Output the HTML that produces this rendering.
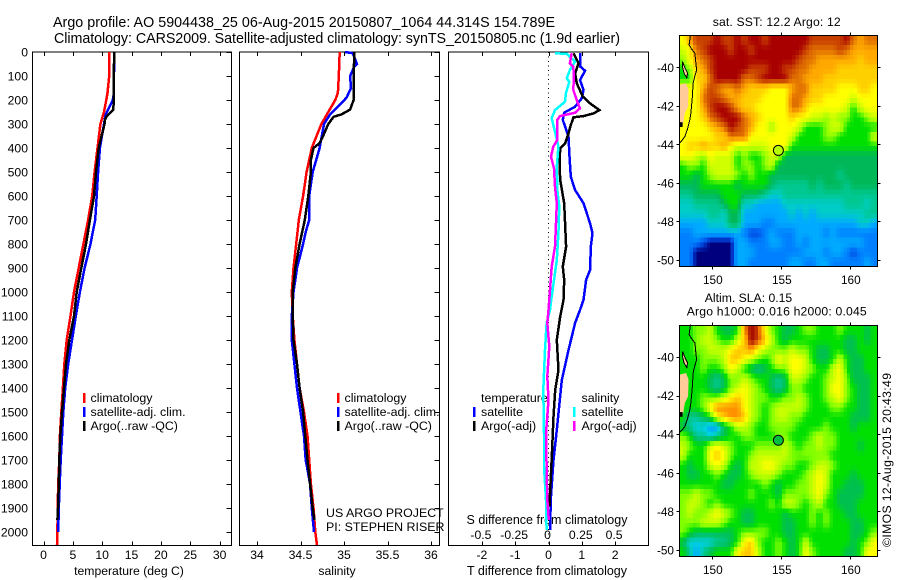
<!DOCTYPE html>
<html>
<head>
<meta charset="utf-8">
<title>Argo profile</title>
<style>
html,body{margin:0;padding:0;background:#fff;}
svg{display:block;}
text{font-family:"Liberation Sans",sans-serif;font-size:12.2px;fill:#000;}
.title{font-size:14.3px;}
.map-tick{font-size:11.8px;}
.legend-text{font-size:12.4px;}
.wide-label{font-size:12.5px;}
</style>
</head>
<body>
<svg id="chart" xmlns="http://www.w3.org/2000/svg" width="900" height="580" viewBox="0 0 900 580">
  <text class="title" x="53" y="27" textLength="502">Argo profile: AO 5904438_25 06-Aug-2015 20150807_1064 44.314S 154.789E</text>
  <text class="title" x="54" y="43" textLength="566">Climatology: CARS2009. Satellite-adjusted climatology: synTS_20150805.nc (1.9d earlier)</text>

  <text x="129" y="575" text-anchor="middle">temperature (deg C)</text>
  <text x="337" y="575" text-anchor="middle">salinity</text>
  <text class="wide-label" x="547" y="575" text-anchor="middle">T difference from climatology</text>
  <text class="wide-label" x="547" y="524" text-anchor="middle">S difference from climatology</text>

  <text class="legend-text" x="326" y="517">US ARGO PROJECT</text>
  <text class="legend-text" x="326" y="531">PI: STEPHEN RISER</text>

  <g id="legends">
    <rect x="83" y="393" width="2.5" height="10" fill="#ff0000"/>
    <text class="legend-text" x="90.5" y="402">climatology</text>
    <rect x="83" y="407" width="2.5" height="10" fill="#0000ff"/>
    <text class="legend-text" x="90.5" y="416">satellite-adj. clim.</text>
    <rect x="83" y="421" width="2.5" height="10" fill="#000000"/>
    <text class="legend-text" x="90.5" y="430">Argo(..raw -QC)</text>

    <rect x="337" y="393" width="2.5" height="10" fill="#ff0000"/>
    <text class="legend-text" x="344.5" y="402">climatology</text>
    <rect x="337" y="407" width="2.5" height="10" fill="#0000ff"/>
    <text class="legend-text" x="344.5" y="416">satellite-adj. clim.</text>
    <rect x="337" y="421" width="2.5" height="10" fill="#000000"/>
    <text class="legend-text" x="344.5" y="430">Argo(..raw -QC)</text>

    <text class="legend-text" x="481" y="402">temperature</text>
    <rect x="473" y="407" width="2.5" height="10" fill="#0000ff"/>
    <text class="legend-text" x="481" y="416">satellite</text>
    <rect x="473" y="421" width="2.5" height="10" fill="#000000"/>
    <text class="legend-text" x="481" y="430">Argo(-adj)</text>

    <text class="legend-text" x="581.5" y="402">salinity</text>
    <rect x="573" y="407" width="2.5" height="10" fill="#00ffff"/>
    <text class="legend-text" x="581.5" y="416">satellite</text>
    <rect x="573" y="421" width="2.5" height="10" fill="#ff00ff"/>
    <text class="legend-text" x="581.5" y="430">Argo(-adj)</text>
  </g>

  <text x="712.7" y="26" textLength="128">sat. SST: 12.2 Argo: 12</text>
  <text x="748.5" y="302" text-anchor="middle">Altim. SLA: 0.15</text>
  <text x="686.7" y="315.5" textLength="180">Argo h1000: 0.016 h2000: 0.045</text>
  <text transform="translate(891,547) rotate(-90)" textLength="174">©IMOS 12-Aug-2015 20:43:49</text>
</svg>
<script>
// ---------- profile data (depth in m, temperature in deg C, salinity) ----------
var depthTicks = [0,100,200,300,400,500,600,700,800,900,1000,1100,1200,1300,1400,1500,1600,1700,1800,1900,2000];
var tempTicks = [0,5,10,15,20,25,30];
var salTicks = [34,34.5,35,35.5,36];
var salTickLabels = ['34','34.5','35','35.5','36'];
var tdiffTicks = [-2,-1,0,1,2];
var sdiffTicks = [-0.5,-0.25,0,0.25,0.5];
var sdiffTickLabels = ['-0.5','-0.25','0','0.25','0.5'];

var climDepth = [0,100,170,200,250,300,400,500,600,700,800,900,1000,1100,1200,1300,1400,1500,1600,1700,1800,1900,2000,2054];
var climTemp = [11.2,11.2,10.9,10.7,10.3,9.7,9.2,8.7,8.3,7.6,6.8,6.0,5.2,4.6,3.95,3.55,3.3,3.03,2.8,2.7,2.5,2.42,2.36,2.3];
var climSal = [34.95,34.94,34.93,34.9,34.82,34.74,34.63,34.57,34.53,34.48,34.45,34.42,34.40,34.41,34.43,34.46,34.49,34.54,34.58,34.6,34.62,34.65,34.67,34.69];

var satTempDepth = [0,100,180,200,230,260,300,400,500,600,700,750,800,900,1000,1100,1200,1300,1400,1500,1600,1700,1800,1900,2000];
var satTemp = [12.1,12.0,11.95,11.8,11.2,10.6,10.3,9.6,9.3,9.06,8.8,8.4,8.0,7.0,6.2,5.5,4.85,4.2,3.7,3.37,3.15,2.93,2.76,2.6,2.5];
var argoTempDepth = [0,100,180,240,250,265,280,300,350,400,500,600,700,800,900,1000,1100,1200,1300,1400,1500,1600,1700,1800,1900,1950];
var argoTemp = [12.05,11.98,11.98,11.9,11.5,10.87,10.5,10.4,9.9,9.4,8.95,8.6,7.9,7.24,6.44,5.66,5.2,4.4,3.83,3.5,3.15,2.87,2.7,2.6,2.47,2.36];

var satSalDepth = [0,5,50,60,100,150,190,220,260,300,400,450,500,600,700,750,800,900,1000,1100,1200,1300,1400,1500,1600,1700,1800,1900,2000];
var satSal = [35.01,35.1,35.15,35.12,35.07,35.08,35.03,34.95,34.84,34.77,34.72,34.68,34.64,34.6,34.6,34.56,34.53,34.46,34.42,34.4,34.4,34.43,34.46,34.5,34.54,34.56,34.61,34.63,34.655];
var argoSalDepth = [0,100,200,240,260,270,300,350,380,400,450,500,600,700,800,900,1000,1100,1200,1300,1400,1500,1600,1700,1800,1900,1950];
var argoSal = [35.12,35.11,35.11,35.07,34.97,34.88,34.82,34.76,34.72,34.65,34.62,34.62,34.59,34.55,34.49,34.44,34.41,34.41,34.42,34.46,34.49,34.53,34.555,34.58,34.61,34.64,34.66];

var tDiffSatDepth = [5,61,78,117,158,193,228,253,283,353,436,520,575,630,714,755,811,908,950,1033,1075,1129,1242,1367,1575,1700,1867,1992];
var tDiffSat = [0.955,0.955,1.10,0.945,1.05,1.0,0.80,0.47,0.43,0.60,0.63,0.67,0.80,1.05,1.25,1.32,1.27,1.25,1.13,1.05,0.945,0.80,0.60,0.40,0.25,0.15,0.066,0.05];
var tDiffArgoDepth = [5,47,89,131,186,214,242,256,267,272,304,339,381,401,464,533,631,714,811,894,950,1033,1102,1200,1325,1408,1519,1686,1825,1894];
var tDiffArgo = [0.75,0.90,0.80,0.85,1.03,1.25,1.53,1.35,1.05,0.75,0.67,0.60,0.50,0.35,0.33,0.35,0.47,0.50,0.53,0.43,0.47,0.45,0.35,0.25,0.30,0.20,0.15,0.10,0.05,0.03];
var sDiffSatDepth = [5,8,40,75,110,124,172,207,242,276,332,394,478,575,644,756,867,950,1019,1075,1130,1241,1408,1589,1727,1866,1991];
var sDiffSat = [0.049,0.137,0.2,0.161,0.137,0.156,0.131,0.124,0.049,0.024,0.049,0.074,0.062,0.066,0.081,0.074,0.062,0.041,0.024,0.011,-0.014,-0.026,-0.039,-0.034,-0.034,-0.019,-0.014];
var sDiffArgoDepth = [5,47,61,103,158,200,235,253,267,283,367,394,436,485,561,631,714,811,894,992,1075,1130,1227,1352,1450,1589,1727,1866,1950];
var sDiffArgo = [0.174,0.161,0.186,0.191,0.186,0.212,0.236,0.2,0.086,0.066,0.066,0.036,0.019,0.041,0.049,0.062,0.056,0.049,0.024,0.011,0,-0.009,0.006,-0.009,0,-0.019,-0.014,-0.009,0.002];

// ---------- map data (colour-scale level per half-degree cell, north to south) ----------
var sstLevels = [
[10,12,14,14,14,15,14,14,15,14,15,15,14,15,15,15,15,15,15,14,14,14,14,14,15,13,12,13,13],
[9,10,13,14,15,15,15,14,15,15,14,15,15,15,15,15,15,15,14,13,13,13,13,14,13,12,12,12,12],
[8,10,12,13,14,15,15,15,15,15,15,15,15,15,15,15,15,14,13,13,12,12,12,12,12,12,11,12,12],
[7,8,11,12,14,15,15,15,15,15,14,14,14,15,15,14,14,13,13,12,12,12,12,11,11,11,11,11,11],
[7,7,11,11,13,15,15,15,15,13,13,14,15,15,15,15,13,13,12,12,12,11,11,11,11,11,11,11,11],
[10,10,10,12,14,13,12,12,13,12,11,11,11,10,10,10,12,13,13,11,11,11,11,10,10,10,11,11,10],
[10,10,10,13,14,14,13,12,12,11,11,11,10,10,10,10,13,13,12,11,11,10,10,10,10,9,10,10,10],
[10,10,10,12,14,15,15,14,12,11,11,10,10,10,10,10,13,13,11,10,10,10,10,10,9,7,9,10,10],
[10,10,10,11,13,14,15,15,15,13,12,11,10,10,10,10,11,10,10,9,9,8,9,8,8,7,7,8,9],
[10,10,10,10,11,12,13,15,14,13,12,10,10,8,10,10,10,9,7,7,7,8,9,9,7,7,7,7,7],
[10,10,10,10,10,11,11,13,13,13,10,10,10,10,10,10,9,7,7,7,7,8,8,7,7,7,7,7,9],
[10,11,11,12,11,11,12,10,9,9,9,9,9,10,10,10,7,7,7,7,7,7,7,7,7,7,7,7,7],
[10,10,9,8,10,9,9,9,7,8,7,7,8,9,9,6,6,6,6,6,6,6,6,6,6,6,6,6,6],
[7,8,8,7,9,9,9,9,7,8,8,7,8,9,6,6,6,6,6,6,6,6,6,6,6,6,6,6,6],
[7,7,6,7,8,9,9,9,8,7,8,7,7,6,6,6,6,6,6,6,6,6,6,5,6,6,6,6,6],
[6,6,6,7,7,7,7,7,6,7,7,7,7,6,5,5,5,5,5,6,5,6,6,6,5,6,6,6,6],
[5,5,6,6,6,6,7,7,7,6,6,6,5,4,4,5,5,5,5,5,5,5,5,5,5,5,5,5,5],
[4,4,5,5,5,5,6,7,7,4,4,3,3,3,3,4,4,4,4,4,4,4,4,4,5,5,5,4,5],
[4,4,4,4,5,5,4,6,6,3,3,3,3,3,3,3,4,3,4,3,4,4,4,4,4,4,4,5,5],
[3,3,3,3,4,4,4,6,6,3,3,3,2,2,3,3,3,3,3,3,3,3,3,3,3,3,4,4,3],
[2,2,3,3,3,3,3,3,3,2,1,1,2,3,2,2,2,3,3,3,3,2,3,2,2,2,2,2,2],
[2,2,2,1,0,0,0,0,3,3,2,2,2,3,3,2,2,3,2,3,3,3,3,3,3,3,3,2,2],
[2,2,0,0,0,0,0,0,3,3,3,2,2,2,2,2,2,2,3,3,3,2,3,3,2,1,2,2,2],
[2,2,0,0,0,0,0,0,3,3,2,2,2,2,2,2,3,3,2,2,3,3,2,2,2,2,2,3,2]
];
var slaLevels = [
[4,4,5,5,6,4,3,3,4,9,11,10,7,5,4,3,3,4,5,5,4,4,4,5,4,4,4,3,4],
[4,4,5,6,6,5,4,4,6,8,11,10,8,6,4,3,4,4,4,4,4,4,4,4,3,3,4,3,4],
[4,4,5,5,6,6,6,7,8,8,9,7,6,5,5,5,6,5,5,4,3,3,4,4,3,3,4,4,4],
[4,4,4,5,5,5,6,8,8,7,6,5,4,5,7,6,7,7,6,4,3,3,4,6,4,3,3,4,4],
[4,4,4,5,4,4,5,7,6,4,3,2,3,4,5,5,7,7,6,5,4,4,6,7,4,3,3,4,4],
[4,4,4,4,3,2,3,5,5,6,5,4,4,3,2,3,6,6,5,4,4,5,6,7,5,3,3,3,4],
[4,4,4,4,3,2,3,5,6,7,6,5,4,3,2,3,5,5,4,4,4,5,7,7,5,4,3,3,4],
[4,4,4,5,5,5,6,7,8,7,6,5,5,4,4,5,5,6,5,4,4,5,6,7,5,4,3,3,4],
[4,4,4,5,7,9,9,9,9,7,6,5,4,5,6,6,6,6,5,4,4,4,5,5,4,4,3,3,4],
[4,2,2,3,4,7,8,9,9,8,6,5,4,5,6,6,5,5,4,4,4,4,4,4,4,3,3,3,4],
[3,2,1,1,0,0,3,4,6,6,5,4,4,5,5,5,5,4,4,4,4,5,4,4,4,3,4,4,4],
[5,4,2,2,1,2,3,4,4,5,5,4,4,4,5,5,4,4,4,5,6,5,5,4,4,4,4,4,4],
[6,5,4,4,6,7,6,5,4,4,4,5,5,5,5,6,5,4,5,5,6,5,5,4,4,4,3,4,4],
[6,4,4,4,7,8,7,5,4,4,5,6,6,6,6,6,5,5,5,5,5,5,4,4,4,4,4,4,4],
[4,3,4,4,6,7,6,4,3,4,6,6,7,7,6,5,5,4,4,5,6,6,5,4,4,4,4,4,4],
[4,3,3,4,4,5,4,3,3,4,5,6,6,6,5,4,4,4,5,6,7,6,4,4,4,3,4,4,4],
[4,4,4,4,4,4,3,3,4,4,4,4,5,4,3,4,4,5,5,6,7,6,4,4,3,3,3,4,4],
[5,5,6,5,5,4,4,4,4,4,5,4,4,4,3,5,5,5,5,6,7,5,4,3,3,3,3,4,4],
[5,6,6,5,4,5,4,4,4,4,4,4,4,5,4,6,6,5,4,5,6,4,4,3,3,3,4,4,4],
[5,6,5,5,6,7,6,5,4,3,3,4,4,4,4,3,4,4,4,5,4,5,4,4,3,3,4,4,4],
[5,5,5,6,6,6,5,4,4,3,3,4,4,4,4,3,3,4,4,5,4,5,4,4,4,3,3,4,4],
[5,4,3,3,3,3,3,3,4,5,5,5,5,4,4,3,3,4,4,4,4,4,4,4,4,3,3,4,5],
[3,1,1,1,1,2,2,3,4,7,8,5,4,4,5,4,3,4,6,4,4,4,4,4,4,3,4,5,7],
[4,2,0,2,3,4,4,4,7,8,8,6,4,4,5,4,3,4,7,5,4,4,4,4,3,3,4,7,7]
];
var mapLonTicks = [150,155,160];
var mapLatTicks = [-40,-42,-44,-46,-48,-50];
var coastLon = [148.42,148.32,148.5,148.74,148.8,148.86,148.72,148.61,148.56,148.49,148.44,148.37,148.2,148.01,147.8,147.6];
var coastLat = [-38.32,-38.84,-39.05,-39.27,-39.7,-40.14,-40.5,-40.83,-41.5,-42.04,-42.4,-42.73,-43.2,-43.6,-43.8,-43.94];
var mainLandLon = [147.6,148.1,148.28,148.25,148.01,147.89,147.6];
var mainLandLat = [-40.92,-40.83,-41.18,-42.04,-42.39,-42.91,-43.17];
var islandLon = [147.85,148.0,148.2,148.15,147.95,147.85];
var islandLat = [-39.71,-40.0,-40.3,-40.55,-40.3,-40.0];
var speckLon = [147.62,147.85,147.85,147.62];
var speckLat = [-42.85,-42.85,-43.1,-43.1];
var floatLon = 154.789;
var floatLat = -44.314;

// ---------- colour scales ----------
var sstColors = ['#00007f','#0048e0','#0080ff','#00aaff','#00ccc8','#00c890','#00b858','#00e000','#90ff00','#d0ff00','#ffff00','#ffd000','#ffa800','#e07000','#c84000','#a80000'];
var slaColors = ['#00a0ff','#00d0e0','#00c890','#00c050','#00e000','#80ff00','#c8ff00','#ffff00','#ffc800','#ff9000','#c84000','#a00000'];

// ---------- helpers ----------
var svg = document.getElementById('chart');
var NS = 'http://www.w3.org/2000/svg';
function mk(parent, tag, props) {
  var e = document.createElementNS(NS, tag);
  for (var k in props) e.setAttribute(k, props[k]);
  parent.appendChild(e);
  return e;
}
var plotTop = 52, plotBottom = 545.5;
function yDepth(d) { return plotTop + d * 0.24; }
function xTemp(v) { return 43.5 + v * 5.87; }
function xSal(v) { return 257 + (v - 34) * 87; }
function xTd(v) { return 548.5 + v * 33.3; }
function xSd(v) { return 548.5 + v * 133.2; }

function pathFrom(xs, depths, xf) {
  var s = '';
  for (var i = 0; i < xs.length; i++) s += (i ? 'L' : 'M') + xf(xs[i]).toFixed(1) + ' ' + yDepth(depths[i]).toFixed(1);
  return s;
}
function drawSeries(parent, xs, depths, xf, color, width, name) {
  var p = mk(parent, 'path', {d: pathFrom(xs, depths, xf), fill: 'none', stroke: color, 'stroke-width': width, 'shape-rendering': 'crispEdges'});
  
  
}
function panelFrame(left, right, name) {
  var g = mk(svg, 'g', {});
  
  
  var r = mk(g, 'rect', {x: left, y: plotTop, width: right - left, height: plotBottom - plotTop, fill: 'none', stroke: '#000', 'stroke-width': 1});
  
  
  return g;
}
function xTicks(g, ticks, labels, xf, baseline, name, showBottom) {
  ticks.forEach(function (t, i) {
    var x = Math.round(xf(t)) + 0.5;
    var a = mk(g, 'line', {x1: x, x2: x, y1: plotTop, y2: plotTop + 4, stroke: '#000'});
    
    
    if (showBottom) {
      var b = mk(g, 'line', {x1: x, x2: x, y1: plotBottom, y2: plotBottom - 4, stroke: '#000'});
      
      
    }
    var tx = mk(g, 'text', {x: xf(t), y: baseline, 'text-anchor': 'middle'});
    tx.textContent = labels[i];
    
    
  });
}
function rightDepthTicks(g, right, name) {
  depthTicks.forEach(function (d) {
    var y = Math.round(yDepth(d)) + 0.5;
    var l = mk(g, 'line', {x1: right - 5, x2: right, y1: y, y2: y, stroke: '#000'});
    
    
  });
}

// ---------- temperature panel ----------
var p1 = panelFrame(32.5, 231.5, 'temperature-panel');
rightDepthTicks(p1, 231.5, 'temperature-panel');
depthTicks.forEach(function (d) {
  var t = mk(p1, 'text', {x: 28, y: yDepth(d) + 4.5, 'text-anchor': 'end'});
  t.textContent = String(d);
  
  
});
xTicks(p1, tempTicks, tempTicks.map(String), xTemp, 559, 'temperature-axis', true);
drawSeries(p1, climTemp, climDepth, xTemp, '#ff0000', 2.5, 'temperature-climatology-line');
drawSeries(p1, satTemp, satTempDepth, xTemp, '#0000ff', 2.5, 'temperature-satellite-line');
drawSeries(p1, argoTemp, argoTempDepth, xTemp, '#000000', 2.5, 'temperature-argo-line');

// ---------- salinity panel ----------
var p2 = panelFrame(239.5, 439.5, 'salinity-panel');
rightDepthTicks(p2, 439.5, 'salinity-panel');
xTicks(p2, salTicks, salTickLabels, xSal, 559, 'salinity-axis', true);
drawSeries(p2, climSal, climDepth, xSal, '#ff0000', 2.5, 'salinity-climatology-line');
drawSeries(p2, satSal, satSalDepth, xSal, '#0000ff', 2.5, 'salinity-satellite-line');
drawSeries(p2, argoSal, argoSalDepth, xSal, '#000000', 2.5, 'salinity-argo-line');

// ---------- difference panel ----------
var p3 = panelFrame(448.5, 648.5, 'difference-panel');
var zero = mk(p3, 'line', {x1: xTd(0), x2: xTd(0), y1: plotTop, y2: plotBottom, stroke: '#000', 'stroke-width': 1, 'stroke-dasharray': '1 3.5'});


xTicks(p3, tdiffTicks, tdiffTicks.map(String), xTd, 559, 't-difference-axis', true);
sdiffTicks.forEach(function (t, i) {
  var tx = mk(p3, 'text', {x: xSd(t) - 1, y: 539, 'text-anchor': 'middle'});
  tx.textContent = sdiffTickLabels[i];
  
  
});
drawSeries(p3, tDiffSat, tDiffSatDepth, xTd, '#0000ff', 2.5, 't-difference-satellite-line');
drawSeries(p3, tDiffArgo, tDiffArgoDepth, xTd, '#000000', 2.5, 't-difference-argo-line');
drawSeries(p3, sDiffSat, sDiffSatDepth, xSd, '#00ffff', 2.5, 's-difference-satellite-line');
drawSeries(p3, sDiffArgo, sDiffArgoDepth, xSd, '#ff00ff', 2.5, 's-difference-argo-line');

// ---------- maps ----------
var mapLeft = 679.5, mapRight = 877.5;
function xLon(lon) { return 712.3 + (lon - 150) * 13.8; }
function hexRgb(h) { return [parseInt(h.substr(1,2),16), parseInt(h.substr(3,2),16), parseInt(h.substr(5,2),16)]; }
function rampColor(colors, v) {
  var i = Math.max(0, Math.min(colors.length - 1, Math.floor(v)));
  var j = Math.min(colors.length - 1, i + 1), f = v - i;
  var a = hexRgb(colors[i]), b = hexRgb(colors[j]);
  return 'rgb(' + Math.round(a[0]+(b[0]-a[0])*f) + ',' + Math.round(a[1]+(b[1]-a[1])*f) + ',' + Math.round(a[2]+(b[2]-a[2])*f) + ')';
}
function polyPoints(lons, lats, yf) {
  return lons.map(function (lon, i) { return xLon(lon).toFixed(1) + ',' + yf(lats[i]).toFixed(1); }).join(' ');
}
function drawField(g, levels, colors, top, bottom, cellName) {
  var nr = levels.length, nc = levels[0].length, sub = 2;
  var w = (mapRight - mapLeft) / (nc * sub), h = (bottom - top) / (nr * sub);
  for (var r = 0; r < nr * sub; r++) for (var c = 0; c < nc * sub; c++) {
    var fy = Math.max(0, Math.min(nr - 1, (r + 0.5) / sub - 0.5)), fx = Math.max(0, Math.min(nc - 1, (c + 0.5) / sub - 0.5));
    var r0 = Math.floor(fy), c0 = Math.floor(fx), r1 = Math.min(nr - 1, r0 + 1), c1 = Math.min(nc - 1, c0 + 1);
    var ty = fy - r0, tx = fx - c0;
    var v = (levels[r0][c0] * (1 - tx) + levels[r0][c1] * tx) * (1 - ty) + (levels[r1][c0] * (1 - tx) + levels[r1][c1] * tx) * ty;
    var cell = mk(g, 'rect', {x: (mapLeft + c * w).toFixed(2), y: (top + r * h).toFixed(2), width: (w + 0.4).toFixed(2), height: (h + 0.4).toFixed(2), fill: rampColor(colors, v), 'shape-rendering': 'crispEdges'});
    
    
  }
}
function decorateMap(g, top, bottom, yf, name, markerFill) {
  var land = mk(g, 'polygon', {points: polyPoints(mainLandLon, mainLandLat, yf), fill: '#ffcc99'});
  
  
  var isl = mk(g, 'polygon', {points: polyPoints(islandLon, islandLat, yf), fill: '#ffcc99', stroke: '#000', 'stroke-width': 1, 'shape-rendering': 'crispEdges'});
  
  
  var speck = mk(g, 'polygon', {points: polyPoints(speckLon, speckLat, yf), fill: '#000'});
  
  
  var coast = mk(g, 'polyline', {points: polyPoints(coastLon, coastLat, yf), fill: 'none', stroke: '#000', 'stroke-width': 1, 'shape-rendering': 'crispEdges'});
  
  
  var fr = mk(g, 'rect', {x: mapLeft, y: top, width: mapRight - mapLeft, height: bottom - top, fill: 'none', stroke: '#000', 'stroke-width': 1});
  
  
  mapLonTicks.forEach(function (lon) {
    var x = Math.round(xLon(lon)) + 0.5;
    var a = mk(g, 'line', {x1: x, x2: x, y1: top - 3, y2: top, stroke: '#000'});
    
    
    var b = mk(g, 'line', {x1: x, x2: x, y1: bottom, y2: bottom + 3, stroke: '#000'});
    
    
    var t = mk(g, 'text', {x: xLon(lon) + 0.5, y: bottom + 17.5, 'text-anchor': 'middle', 'class': 'map-tick'});
    t.textContent = String(lon);
    
    
  });
  mapLatTicks.forEach(function (lat) {
    var y = Math.round(yf(lat)) + 0.5;
    var a = mk(g, 'line', {x1: mapLeft - 3, x2: mapLeft, y1: y, y2: y, stroke: '#000'});
    
    
    var b = mk(g, 'line', {x1: mapRight, x2: mapRight + 3, y1: y, y2: y, stroke: '#000'});
    
    
    var t = mk(g, 'text', {x: mapLeft - 5.5, y: yf(lat) + 4.5, 'text-anchor': 'end', 'class': 'map-tick'});
    t.textContent = String(lat);
    
    
  });
  var m = mk(g, 'circle', {cx: xLon(floatLon), cy: yf(floatLat), r: 5, fill: markerFill, stroke: '#000', 'stroke-width': 1});
  
  
}

// SST map
function ySst(lat) { return 67.3 + (-40 - lat) * 19.27; }
var sstTop = 35.5, sstBottom = 266.5;
var g1 = mk(svg, 'g', {});


drawField(g1, sstLevels, sstColors, sstTop, sstBottom, 'sst-cell');
decorateMap(g1, sstTop, sstBottom, ySst, 'sst-map', '#b8ff00');

// SLA map
function ySla(lat) { return 357 + (-40 - lat) * 19.3; }
var slaTop = 325.5, slaBottom = 556.5;
var g2 = mk(svg, 'g', {});


drawField(g2, slaLevels, slaColors, slaTop, slaBottom, 'sla-cell');
decorateMap(g2, slaTop, slaBottom, ySla, 'sla-map', '#00c040');
</script>
</body>
</html>
